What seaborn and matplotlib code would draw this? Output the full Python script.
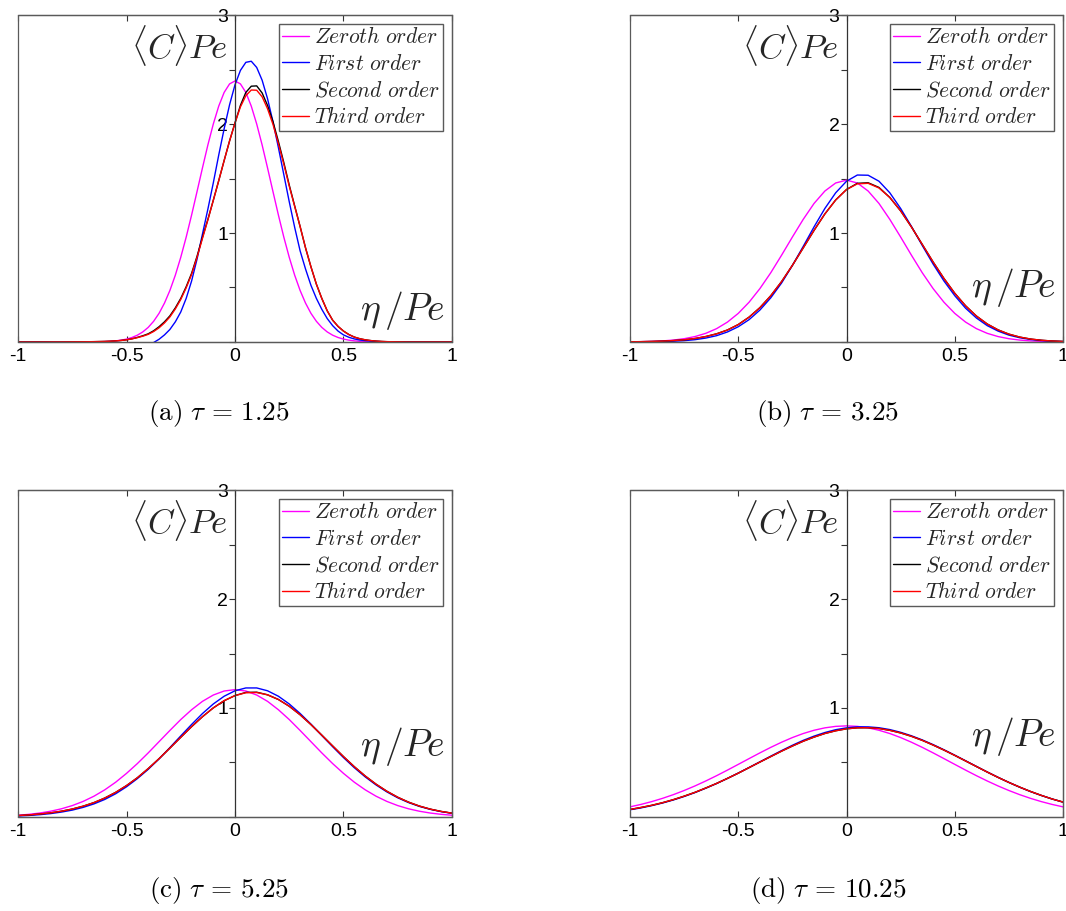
import numpy as np
import pandas as pd
import matplotlib
matplotlib.use('Agg')
import matplotlib.pyplot as plt
from matplotlib.patches import Rectangle
import seaborn as sns

# sample positions eta/Pe (panel a is sampled finer, its peak is narrow)
eta_a = [-1.0, -0.9, -0.8, -0.7,
         -0.65, -0.625, -0.6, -0.575, -0.55, -0.525, -0.5, -0.475, -0.45, -0.425,
         -0.4, -0.375, -0.35, -0.325, -0.3, -0.275, -0.25, -0.225, -0.2, -0.175,
         -0.15, -0.125, -0.1, -0.075, -0.05, -0.025, 0.0, 0.025, 0.05, 0.075,
         0.1, 0.125, 0.15, 0.175, 0.2, 0.225, 0.25, 0.275, 0.3, 0.325,
         0.35, 0.375, 0.4, 0.425, 0.45, 0.475, 0.5, 0.525, 0.55, 0.575,
         0.6, 0.625, 0.65, 0.675, 0.7,
         0.8, 0.9, 1.0]
eta = [-1.00, -0.95, -0.90, -0.85, -0.80, -0.75, -0.70, -0.65, -0.60, -0.55,
       -0.50, -0.45, -0.40, -0.35, -0.30, -0.25, -0.20, -0.15, -0.10, -0.05,
       0.00, 0.05, 0.10, 0.15, 0.20, 0.25, 0.30, 0.35, 0.40, 0.45,
       0.50, 0.55, 0.60, 0.65, 0.70, 0.75, 0.80, 0.85, 0.90, 0.95, 1.00]

order_names = [r'$Zeroth\ order$', r'$First\ order$', r'$Second\ order$', r'$Third\ order$']
order_colors = ['#ff00ff', '#0000ff', '#000000', '#ff0000']

taus = ['1.25', '3.25', '5.25', '10.25']
panel_tags = ['a', 'b', 'c', 'd']

# ---- tau = 1.25 ----
zeroth_a = [0, 0, 0, 0.0004,
            0.0012, 0.0021, 0.0037, 0.0062, 0.0103, 0.0167, 0.0265, 0.0411, 0.0624, 0.0924,
            0.134, 0.190, 0.263, 0.357, 0.473, 0.613, 0.777, 0.962, 1.165, 1.380,
            1.597, 1.808, 2.000, 2.164, 2.290, 2.368, 2.395, 2.368, 2.290, 2.164,
            2.000, 1.808, 1.597, 1.380, 1.165, 0.962, 0.777, 0.613, 0.473, 0.357,
            0.263, 0.190, 0.134, 0.0924, 0.0624, 0.0411, 0.0265, 0.0167, 0.0103, 0.0062,
            0.0037, 0.0021, 0.0012, 0.0007, 0.0004,
            0, 0, 0]
first_a = [0, 0, -0.01, -0.03,
           -0.05, -0.06, -0.07, -0.08, -0.09, -0.10, -0.10, -0.10, -0.09, -0.06,
           -0.03, -0.005, 0.025, 0.065, 0.115, 0.185, 0.275, 0.40, 0.56, 0.76,
           0.99, 1.219, 1.46, 1.715, 1.957, 2.177, 2.36, 2.492, 2.566, 2.576,
           2.519, 2.402, 2.232, 2.021, 1.784, 1.535, 1.287, 1.052, 0.837, 0.67,
           0.52, 0.40, 0.30, 0.215, 0.15, 0.10, 0.065, 0.043, 0.028, 0.018,
           0.012, 0.008, 0.005, 0.003, 0.002,
           0, 0, 0]
second_a = [0, 0, 0, 0.002,
            0.003, 0.004, 0.005, 0.007, 0.01, 0.014, 0.02, 0.029, 0.042, 0.057,
            0.075, 0.103, 0.14, 0.185, 0.24, 0.313, 0.40, 0.507, 0.63, 0.786,
            0.96, 1.125, 1.30, 1.48, 1.665, 1.845, 2.01, 2.171, 2.29, 2.347,
            2.35, 2.285, 2.17, 2.022, 1.84, 1.646, 1.44, 1.249, 1.06, 0.864,
            0.69, 0.531, 0.40, 0.286, 0.20, 0.143, 0.10, 0.068, 0.045, 0.030,
            0.02, 0.013, 0.008, 0.005, 0.003,
            0, 0, 0]
third_a = [0, 0, 0, 0.002,
           0.003, 0.004, 0.005, 0.007, 0.01, 0.014, 0.02, 0.029, 0.04, 0.053,
           0.07, 0.096, 0.13, 0.175, 0.23, 0.303, 0.39, 0.497, 0.62, 0.776,
           0.95, 1.12, 1.30, 1.48, 1.665, 1.845, 2.01, 2.157, 2.26, 2.312,
           2.31, 2.25, 2.14, 1.997, 1.82, 1.631, 1.43, 1.244, 1.06, 0.864,
           0.69, 0.531, 0.40, 0.286, 0.20, 0.143, 0.10, 0.068, 0.045, 0.030,
           0.02, 0.013, 0.008, 0.005, 0.003,
           0, 0, 0]

# ---- tau = 3.25 ----
zeroth_b = [0.0015, 0.0029, 0.0054, 0.0099, 0.0176, 0.0301, 0.0498, 0.0794, 0.1225, 0.1825,
            0.2625, 0.365, 0.490, 0.635, 0.796, 0.963, 1.125, 1.271, 1.385, 1.459,
            1.485, 1.459, 1.385, 1.271, 1.125, 0.963, 0.796, 0.635, 0.490, 0.365,
            0.2625, 0.1825, 0.1225, 0.0794, 0.0498, 0.0301, 0.0176, 0.0099, 0.0054, 0.0029, 0.0015]
first_b = [0.0, 0.001, 0.002, 0.004, 0.007, 0.012, 0.021, 0.036, 0.058, 0.092,
           0.14, 0.205, 0.293, 0.405, 0.541, 0.702, 0.877, 1.056, 1.225, 1.369,
           1.475, 1.532, 1.530, 1.475, 1.369, 1.225, 1.06, 0.885, 0.715, 0.56,
           0.425, 0.31, 0.22, 0.15, 0.10, 0.063, 0.039, 0.023, 0.013, 0.007, 0.004]
second_b = [0.002, 0.003, 0.005, 0.008, 0.013, 0.02, 0.032, 0.05, 0.075, 0.11,
            0.16, 0.228, 0.315, 0.424, 0.554, 0.703, 0.863, 1.024, 1.175, 1.303,
            1.399, 1.456, 1.461, 1.418, 1.326, 1.203, 1.055, 0.895, 0.734, 0.583,
            0.447, 0.332, 0.238, 0.165, 0.111, 0.072, 0.045, 0.027, 0.016, 0.009, 0.005]
third_b = [0.002, 0.003, 0.005, 0.008, 0.013, 0.02, 0.032, 0.05, 0.075, 0.11,
           0.16, 0.228, 0.315, 0.424, 0.554, 0.703, 0.863, 1.024, 1.175, 1.303,
           1.399, 1.451, 1.456, 1.413, 1.326, 1.203, 1.055, 0.895, 0.734, 0.583,
           0.447, 0.332, 0.238, 0.165, 0.111, 0.072, 0.045, 0.027, 0.016, 0.009, 0.005]

# ---- tau = 5.25 ----
zeroth_c = [0.016, 0.0243, 0.0362, 0.0527, 0.075, 0.1046, 0.1428, 0.1907, 0.2494, 0.319,
            0.400, 0.490, 0.588, 0.691, 0.794, 0.894, 0.984, 1.061, 1.119, 1.156,
            1.1685, 1.156, 1.119, 1.061, 0.984, 0.894, 0.794, 0.691, 0.588, 0.490,
            0.400, 0.319, 0.2494, 0.1907, 0.1428, 0.1046, 0.075, 0.0527, 0.0362, 0.0243, 0.016]
first_c = [0.009, 0.014, 0.021, 0.031, 0.045, 0.063, 0.088, 0.12, 0.161, 0.213,
           0.277, 0.352, 0.437, 0.533, 0.637, 0.744, 0.849, 0.949, 1.037, 1.108,
           1.158, 1.184, 1.184, 1.158, 1.108, 1.037, 0.95, 0.852, 0.748, 0.645,
           0.545, 0.452, 0.368, 0.294, 0.23, 0.176, 0.132, 0.097, 0.07, 0.049, 0.034]
second_c = [0.013, 0.019, 0.027, 0.038, 0.053, 0.073, 0.099, 0.132, 0.174, 0.226,
            0.288, 0.360, 0.444, 0.535, 0.632, 0.731, 0.829, 0.920, 1.001, 1.067,
            1.114, 1.143, 1.145, 1.121, 1.078, 1.016, 0.938, 0.848, 0.751, 0.652,
            0.554, 0.461, 0.376, 0.301, 0.236, 0.181, 0.136, 0.100, 0.072, 0.051, 0.035]
third_c = [0.013, 0.019, 0.027, 0.038, 0.053, 0.073, 0.099, 0.132, 0.174, 0.226,
           0.288, 0.360, 0.444, 0.535, 0.632, 0.731, 0.829, 0.920, 1.001, 1.067,
           1.114, 1.140, 1.142, 1.121, 1.078, 1.016, 0.938, 0.848, 0.751, 0.652,
           0.554, 0.461, 0.376, 0.301, 0.236, 0.181, 0.136, 0.100, 0.072, 0.051, 0.035]

# ---- tau = 10.25 ----
zeroth_d = [0.0929, 0.115, 0.141, 0.1709, 0.2048, 0.2429, 0.2848, 0.3304, 0.379, 0.43,
            0.4827, 0.5357, 0.5882, 0.6387, 0.6859, 0.7287, 0.7657, 0.7957, 0.8178, 0.8314,
            0.836, 0.8314, 0.8178, 0.7957, 0.7657, 0.7287, 0.6859, 0.6387, 0.5882, 0.5357,
            0.4827, 0.43, 0.379, 0.3304, 0.2848, 0.2429, 0.2048, 0.1709, 0.141, 0.115, 0.0929]
first_d = [0.066, 0.083, 0.104, 0.128, 0.156, 0.188, 0.224, 0.264, 0.307, 0.354,
           0.403, 0.454, 0.506, 0.558, 0.609, 0.658, 0.703, 0.742, 0.775, 0.801,
           0.818, 0.827, 0.827, 0.819, 0.802, 0.777, 0.745, 0.707, 0.664, 0.617,
           0.567, 0.516, 0.464, 0.413, 0.364, 0.317, 0.273, 0.233, 0.197, 0.165, 0.136]
second_d = [0.069, 0.087, 0.107, 0.131, 0.159, 0.191, 0.226, 0.266, 0.308, 0.354,
            0.402, 0.453, 0.504, 0.554, 0.604, 0.651, 0.695, 0.733, 0.766, 0.791,
            0.809, 0.818, 0.819, 0.812, 0.795, 0.771, 0.740, 0.703, 0.660, 0.614,
            0.565, 0.514, 0.463, 0.412, 0.363, 0.317, 0.274, 0.234, 0.198, 0.165, 0.137]
third_d = [0.069, 0.087, 0.107, 0.131, 0.159, 0.191, 0.226, 0.266, 0.308, 0.354,
           0.402, 0.453, 0.504, 0.554, 0.604, 0.651, 0.695, 0.733, 0.766, 0.791,
           0.809, 0.818, 0.819, 0.812, 0.795, 0.771, 0.740, 0.703, 0.660, 0.614,
           0.565, 0.514, 0.463, 0.412, 0.363, 0.317, 0.274, 0.234, 0.198, 0.165, 0.137]

panel_eta = [eta_a, eta, eta, eta]
panel_data = [
    [zeroth_a, first_a, second_a, third_a],
    [zeroth_b, first_b, second_b, third_b],
    [zeroth_c, first_c, second_c, third_c],
    [zeroth_d, first_d, second_d, third_d],
]

x_ticks = [-1, -0.5, 0, 0.5, 1]
x_tick_labels = ['-1', '-0.5', '0', '0.5', '1']
y_ticks = [0, 0.5, 1, 1.5, 2, 2.5, 3]
y_tick_labels = ['', '', '1', '', '2', '', '3']

# where the eta/Pe annotation sits (data y) in each panel
eta_label_y = [0.29, 0.50, 0.645, 0.74]

################################################################################
sns.set_theme(style='white')
plt.rcParams['font.family'] = ['Liberation Sans', 'DejaVu Sans']
plt.rcParams['mathtext.fontset'] = 'cm'
plt.rcParams['axes.unicode_minus'] = False

fig = plt.figure(figsize=(10.66, 9.11), dpi=100)

axes_pos = [(0.0169, 0.6246, 0.4071, 0.3589),
            (0.5910, 0.6246, 0.4062, 0.3589),
            (0.0169, 0.1032, 0.4071, 0.3589),
            (0.5910, 0.1032, 0.4062, 0.3589)]
caption_pos = [(0.2054, 0.5456), (0.7767, 0.5456), (0.2054, 0.0230), (0.7767, 0.0230)]

box_col = '#5a5a5a'
palette = dict(zip(order_names, order_colors))

for i, series in enumerate(panel_data):
    ax = fig.add_axes(axes_pos[i])

    frames = []
    for name, vals in zip(order_names, series):
        frames.append(pd.DataFrame({'eta': panel_eta[i], 'C': vals, 'order': name}))
    df = pd.concat(frames, ignore_index=True)

    sns.lineplot(data=df, x='eta', y='C', hue='order', hue_order=order_names,
                 palette=palette, estimator=None, sort=False, linewidth=1.0, ax=ax)

    ax.set_xlim(-1, 1)
    ax.set_ylim(0, 3)
    ax.set_xlabel('')
    ax.set_ylabel('')

    # y axis through the origin, box round the plot
    ax.spines['left'].set_position(('data', 0))
    ax.spines['left'].set_color('#333333')
    ax.spines['left'].set_linewidth(0.9)
    for s in ['top', 'right', 'bottom']:
        ax.spines[s].set_color(box_col)
        ax.spines[s].set_linewidth(0.9)
    ax.add_patch(Rectangle((0, 0), 1, 1, transform=ax.transAxes, fill=False,
                           edgecolor=box_col, linewidth=0.9, clip_on=False, zorder=5))

    ax.set_xticks(x_ticks)
    ax.set_xticklabels(x_tick_labels)
    ax.set_yticks(y_ticks)
    ax.set_yticklabels(y_tick_labels)
    ax.tick_params(axis='x', direction='in', length=4, width=0.8, top=True, bottom=True,
                   labelsize=14, pad=4, color='#333333', labelcolor='black')
    ax.tick_params(axis='y', direction='out', length=4, width=0.8, left=True,
                   labelsize=14, pad=1, color='#333333', labelcolor='black')

    # legend rebuilt in the boxed MATLAB look
    old = ax.get_legend()
    handles = old.legend_handles
    labels = [t.get_text() for t in old.get_texts()]
    old.remove()
    leg = ax.legend(handles, labels, loc='upper right', bbox_to_anchor=(0.979, 0.972),
                    borderaxespad=0, frameon=True, fancybox=False, framealpha=1,
                    edgecolor=box_col, fontsize=15.5, handlelength=1.25,
                    handletextpad=0.2, borderpad=0.15, labelspacing=0.26)
    leg.get_frame().set_linewidth(1.0)
    for t in leg.get_texts():
        t.set_color('#262626')

    ax.text(-0.035, 2.72, r'$\langle C\rangle Pe$', fontsize=25, ha='right', va='center',
            color='#262626')
    ax.text(0.97, eta_label_y[i], r'$\eta\,/Pe$', fontsize=27, ha='right', va='center',
            color='#262626')

    fig.text(caption_pos[i][0], caption_pos[i][1],
             r'$\mathrm{(%s)}\ \tau\,=\,%s$' % (panel_tags[i], taus[i]),
             fontsize=19.5, ha='center', va='center', color='black')

fig.savefig('out.png', dpi=100, facecolor='white')
